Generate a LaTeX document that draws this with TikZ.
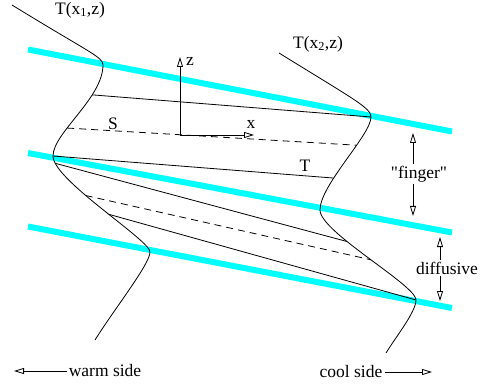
\documentclass[tikz,border=0pt]{standalone}
\usepackage{fontspec}
\setmainfont{Liberation Serif}[Ligatures=TeXOff]
\usetikzlibrary{arrows.meta}
\definecolor{bandcyan}{RGB}{0,255,255}

\begin{document}
\begin{tikzpicture}[
    x=1pt, y=-1pt,
    every node/.style={font=\fontsize{17.5}{20}\selectfont, inner sep=2pt},
    band/.style={bandcyan, line width=6pt},
    profile/.style={line width=0.8pt},
    iso/.style={line width=0.8pt},
    isodash/.style={iso, dash pattern=on 7pt off 5pt},
    oarrow/.style={-{Triangle[open, length=10pt, width=6pt]}, line width=0.8pt}
    ]
    \useasboundingbox (0,0) rectangle (484,387);

    % interfaces
    \draw[band] (28,49.5) -- (452,131.5);
    \draw[band] (28,153) -- (452,232.5);
    \draw[band] (28,226.5) -- (452,308);

    % profile at x1
    \coordinate (a0) at (12,5);
    \coordinate (a1) at (103,65);
    \coordinate (a2) at (53,156);
    \coordinate (a3) at (150,252);
    \coordinate (a4) at (95,340);
    \draw[profile] (a0) .. controls (90,53) and (103,57) .. (a1)
        .. controls (103,98) and (53,133) .. (a2) coordinate[pos=0.3] (warm1) coordinate[pos=0.65] (warmS)
        .. controls (53,180) and (150,240) .. (a3) coordinate[pos=0.09] (warm3) coordinate[pos=0.39] (warmS2) coordinate[pos=0.55] (warm5)
        .. controls (150,264) and (115,308) .. (a4);

    % profile at x2
    \coordinate (b0) at (279,53);
    \coordinate (b1) at (371,117);
    \coordinate (b2) at (320,210);
    \coordinate (b3) at (416,300);
    \coordinate (b4) at (386,353);
    \draw[profile] (b0) .. controls (355,100) and (371,108) .. (b1)
        .. controls (371,135) and (320,185) .. (b2) coordinate[pos=0.35] (coolS) coordinate[pos=0.66] (coolT)
        .. controls (320,232) and (416,285) .. (b3) coordinate[pos=0.35] (cool3) coordinate[pos=0.52] (coolS2)
        .. controls (416,312) and (395,338) .. (b4);

    \node (tone) at (80,10) {T(x\textsubscript{1},z)};
    \node (ttwo) at (318,44) {T(x\textsubscript{2},z)};

    % isolines
    \draw[iso] (warm1) -- (b1);
    \draw[isodash] (warmS) -- (coolS);
    \draw[iso] (a2) -- (coolT);
    \draw[iso] (warm3) -- (cool3);
    \draw[isodash] (warmS2) -- (coolS2);
    \draw[iso] (warm5) -- (b3);
    \node (slab) at (113,124) {S};
    \node (tlab) at (305,166) {T};

    % axes
    \coordinate (orig) at (180,135);
    \coordinate (ztip) at (180,57);
    \coordinate (xtip) at (254,135);
    \draw[oarrow] (orig) -- (ztip);
    \draw[oarrow] (orig) -- (xtip);
    \node (zlab) at (190,61) {z};
    \node (xlab) at (251,124) {x};

    % layer thickness
    \node (finger) at (419,174) {"finger"};
    \coordinate (fingtop) at (413,133);
    \coordinate (fingbot) at (413,216);
    \draw[oarrow] (fingtop |- finger.north) -- (fingtop);
    \draw[oarrow] (fingbot |- finger.south) -- (fingbot);

    \node (diff) at (447,268) {diffusive};
    \coordinate (difftop) at (440,237);
    \coordinate (diffbot) at (440,301);
    \draw[oarrow] (difftop |- diff.north) -- (difftop);
    \draw[oarrow] (diffbot |- diff.south) -- (diffbot);

    % sides
    \node (warm) at (105,371) {warm side};
    \coordinate (warmend) at (14,371);
    \draw[oarrow] (warm) -- (warmend);
    \node (cool) at (351,372) {cool side};
    \coordinate (coolend) at (432,372);
    \draw[oarrow] (cool) -- (coolend);
\end{tikzpicture}
\end{document}
